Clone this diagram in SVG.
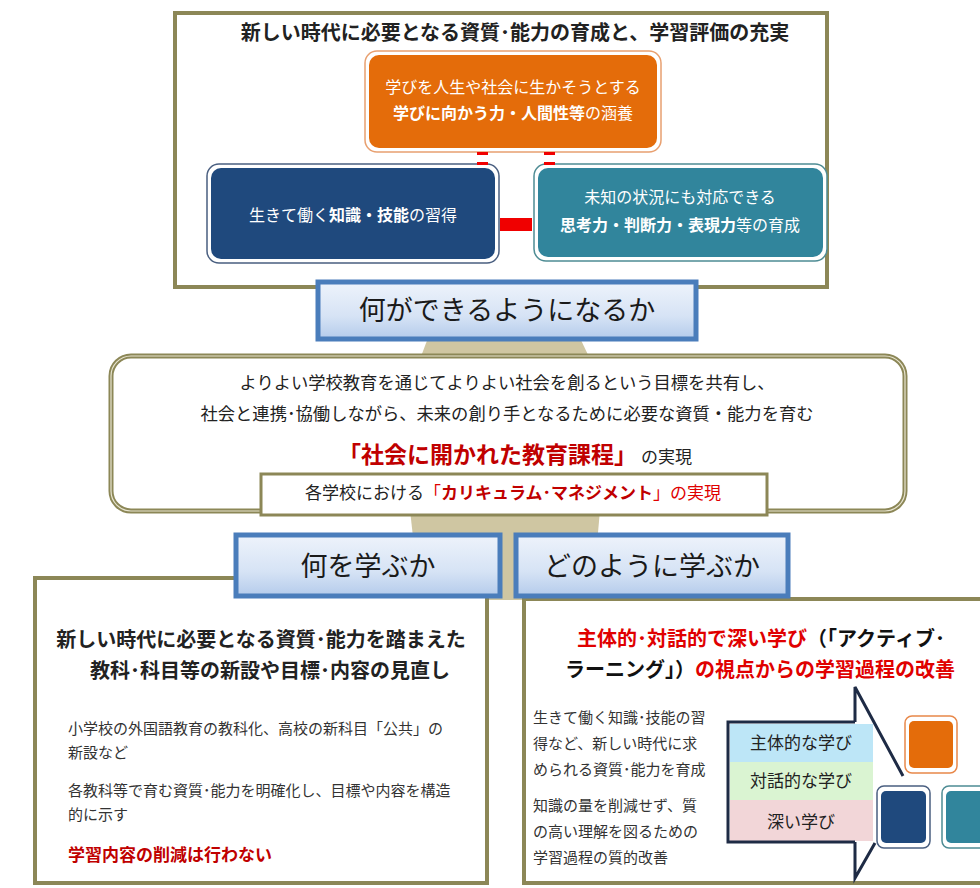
<svg xmlns="http://www.w3.org/2000/svg" width="980" height="888" viewBox="0 0 980 888">
<defs>
<linearGradient id="tabg" x1="0" y1="0" x2="0" y2="1">
<stop offset="0" stop-color="#EEF3FB"/>
<stop offset="0.6" stop-color="#D6E3F5"/>
<stop offset="1" stop-color="#B4CBEB"/>
</linearGradient>
<style>
text{font-family:"Noto Sans CJK JP","Noto Sans",sans-serif;fill:#222;}
.frame{fill:#fff;stroke:#8C8757;stroke-width:4;}
.tab{fill:url(#tabg);stroke:#4A7DBB;stroke-width:5;}
.tabt{font-size:27px;text-anchor:middle;font-weight:400;fill:#1a1a1a;}
.wt{fill:#fff;font-size:16px;text-anchor:middle;}
.b{font-weight:700;}
.red{fill:#E00000;}
.dred{fill:#C00000;}
.body{font-size:15px;fill:#333;}
.conn{fill:#F00000;}
.cl{fill:none;stroke:#1E2B45;stroke-width:3;stroke-linejoin:miter;}
</style>
</defs>
<rect width="980" height="888" fill="#fff"/>

<!-- beige background shape -->
<polygon points="428,338 580,338 600,380 600,510 592,600 420,600 410,510 412,380" fill="#CFC6A2"/>

<g id="top-frame">
<rect class="frame" x="175" y="13" width="652" height="274"/>
<text x="515" y="40" font-size="20" class="b" text-anchor="middle" fill="#111">新しい時代に必要となる資質･能力の育成と、学習評価の充実</text>
</g>

<g id="node-orange">
<rect x="365" y="51" width="296" height="101" rx="12" fill="#fff" stroke="#E8A070" stroke-width="1.5"/>
<rect x="369" y="55" width="288" height="93" rx="10" fill="#E46C0A"/>
<text class="wt" x="513" y="93">学びを人生や社会に生かそうとする</text>
<text class="wt" x="513" y="119"><tspan class="b">学びに向かう力・人間性等</tspan>の涵養</text>
</g>

<g id="node-knowledge">
<rect x="207" y="164" width="292" height="99" rx="12" fill="#fff" stroke="#4A5F80" stroke-width="1.5"/>
<rect x="211" y="168" width="284" height="91" rx="10" fill="#1F497D"/>
<text class="wt" x="353" y="221">生きて働く<tspan class="b">知識・技能</tspan>の習得</text>
</g>

<g id="node-thinking">
<rect x="534" y="164" width="293" height="97" rx="12" fill="#fff" stroke="#4E8C94" stroke-width="1.5"/>
<rect x="538" y="168" width="285" height="89" rx="10" fill="#31859C"/>
<text class="wt" x="680" y="203">未知の状況にも対応できる</text>
<text class="wt" x="680" y="231"><tspan class="b">思考力・判断力・表現力</tspan>等の育成</text>
</g>

<g id="connectors">
<rect class="conn" x="477" y="152" width="11" height="3"/>
<rect class="conn" x="477" y="162" width="11" height="3"/>
<rect class="conn" x="544" y="152" width="11" height="3"/>
<rect class="conn" x="544" y="162" width="11" height="3"/>
<rect class="conn" x="500" y="218" width="32" height="13"/>
<rect class="conn" x="919" y="773" width="6" height="2"/>
<rect class="conn" x="945" y="773" width="6" height="2"/>
<rect class="conn" x="919" y="784" width="6" height="2"/>
<rect class="conn" x="945" y="784" width="6" height="2"/>
<rect class="conn" x="932" y="805" width="8" height="8"/>
</g>

<g id="tab-can-do">
<rect class="tab" x="318" y="282" width="378" height="57"/>
<text class="tabt" x="507" y="320">何ができるようになるか</text>
</g>

<g id="curriculum">
<rect x="111" y="356" width="794" height="155" rx="20" fill="#fff" stroke="#8C8757" stroke-width="5"/>
<rect x="111" y="356" width="794" height="155" rx="20" fill="none" stroke="#E8E5D0" stroke-width="1.2"/>
<text x="507" y="389" font-size="17.3" text-anchor="middle">よりよい学校教育を通じてよりよい社会を創るという目標を共有し、</text>
<text x="507" y="420" font-size="17.3" text-anchor="middle">社会と連携･協働しながら、未来の創り手となるために必要な資質・能力を育む</text>
<text x="515" y="463" font-size="17" text-anchor="middle"><tspan class="b dred" font-size="23">「社会に開かれた教育課程」</tspan> の実現</text>
</g>

<g id="curriculum-management">
<rect x="261" y="474" width="506" height="41" fill="#fff" stroke="#8C8757" stroke-width="3"/>
<text x="513" y="499" font-size="17" text-anchor="middle">各学校における<tspan class="red">「</tspan><tspan class="b dred">カリキュラム･マネジメント</tspan><tspan class="red">」の実現</tspan></text>
</g>

<g id="what-to-learn">
<rect class="frame" x="35" y="578" width="452" height="305"/>
<rect class="tab" x="236" y="535" width="264" height="61"/>
<text class="tabt" x="368" y="576">何を学ぶか</text>
<text x="261" y="647" font-size="20" class="b" text-anchor="middle" fill="#111">新しい時代に必要となる資質･能力を踏まえた</text>
<text x="270" y="678" font-size="20" class="b" text-anchor="middle" fill="#111">教科･科目等の新設や目標･内容の見直し</text>
<text class="body" x="68" y="734">小学校の外国語教育の教科化、高校の新科目「公共」の</text>
<text class="body" x="68" y="758">新設など</text>
<text class="body" x="68" y="796">各教科等で育む資質･能力を明確化し、目標や内容を構造</text>
<text class="body" x="68" y="820">的に示す</text>
<text x="68" y="861" font-size="17" class="b dred">学習内容の削減は行わない</text>
</g>

<g id="how-to-learn">
<rect class="frame" x="524" y="599" width="470" height="284"/>
<rect class="tab" x="516" y="535" width="272" height="61"/>
<text class="tabt" x="652" y="576">どのように学ぶか</text>
<text x="761" y="646" font-size="20" class="b" text-anchor="middle"><tspan class="red">主体的･対話的で深い学び</tspan><tspan fill="#111">（「アクティブ･</tspan></text>
<text x="760" y="677" font-size="20" class="b" text-anchor="middle"><tspan fill="#111">ラーニング」）</tspan><tspan class="red">の視点からの学習過程の改善</tspan></text>
<text class="body" x="533" y="723">生きて働く知識･技能の習</text>
<text class="body" x="533" y="749">得など、新しい時代に求</text>
<text class="body" x="533" y="775">められる資質･能力を育成</text>
<text class="body" x="533" y="811">知識の量を削減せず、質</text>
<text class="body" x="533" y="837">の高い理解を図るための</text>
<text class="body" x="533" y="863">学習過程の質的改善</text>
</g>

<g id="callout">
<rect x="730" y="724" width="143" height="38" fill="#BDE6F7"/>
<rect x="730" y="762" width="143" height="38" fill="#DAF4D2"/>
<rect x="730" y="800" width="143" height="41" fill="#F2D6D8"/>
<polyline class="cl" points="855,722 728,722 728,842 855,842"/>
<polyline class="cl" points="855,722 855,687 903,776"/>
<polyline class="cl" points="855,842 855,878 875,843"/>
<text x="801" y="749" font-size="17" text-anchor="middle">主体的な学び</text>
<text x="801" y="787" font-size="17" text-anchor="middle">対話的な学び</text>
<text x="801" y="828" font-size="17" text-anchor="middle">深い学び</text>
</g>

<g id="mini-orange">
<rect x="905" y="716" width="52" height="57" rx="7" fill="#fff" stroke="#E8884A" stroke-width="1.5"/>
<rect x="909" y="721" width="44" height="47" rx="5" fill="#E46C0A"/>
</g>
<g id="mini-knowledge">
<rect x="877" y="786" width="53" height="62" rx="7" fill="#fff" stroke="#4A5F80" stroke-width="1.5"/>
<rect x="881" y="791" width="45" height="52" rx="5" fill="#1F497D"/>
</g>
<g id="mini-thinking">
<rect x="942" y="786" width="53" height="62" rx="7" fill="#fff" stroke="#4E8C94" stroke-width="1.5"/>
<rect x="946" y="791" width="45" height="52" rx="5" fill="#31859C"/>
</g>
</svg>
